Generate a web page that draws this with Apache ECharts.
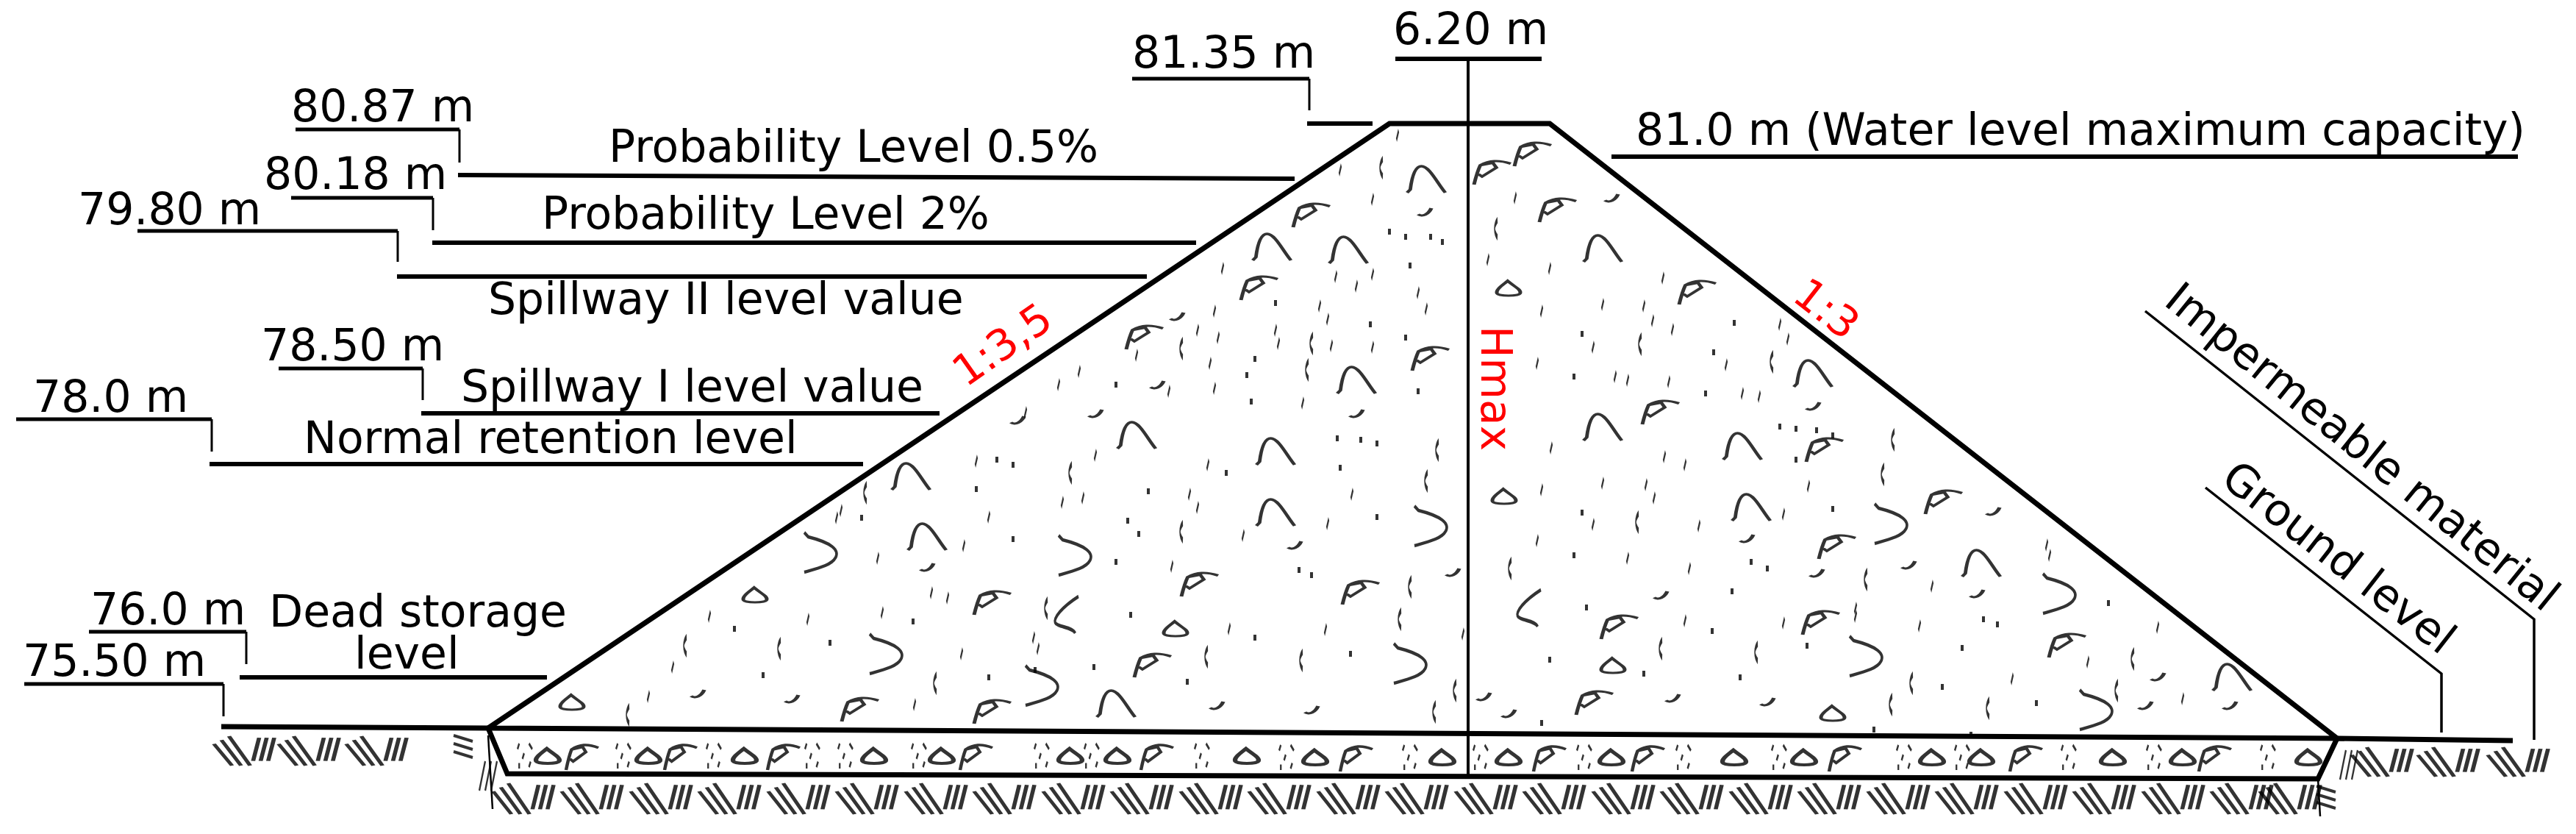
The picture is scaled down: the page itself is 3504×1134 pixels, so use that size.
<!DOCTYPE html>
<html>
<head>
<meta charset="utf-8">
<style>
  html, body { margin: 0; padding: 0; background: #fff; }
  #chart { width: 3504px; height: 1134px; }
</style>
<script src="https://cdn.jsdelivr.net/npm/echarts@6/dist/echarts.min.js"></script>
</head>
<body>
<div id="chart"></div>
<script>
// all diagram points are [x, y] in drawing units, the axes map them onto the page
const damBody = [[664, 990], [1890, 168], [2108, 168], [3179, 1004], [664, 990]]
const foundation = [[664, 990], [690, 1052], [3153, 1059], [3179, 1004]]
const groundLeft = [[301, 988], [664, 990]]
const groundRight = [[3179, 1004], [3418, 1007]]
const centerLine = [[1997, 80], [1997, 1053]]
const crestWidthBar = [[1898, 80], [2097, 80]]
const crestDash = [[1778, 168], [1867, 168]]
const edgeFootLeft = [[664, 1000], [670, 1100]]
const edgeFootRight = [[3153, 1059], [3156, 1110]]

const levelBars = [
  [[1540, 107], [1781, 107]],
  [[402, 176], [625, 176]],
  [[396, 269], [589, 269]],
  [[187, 314], [541, 314]],
  [[379, 501], [575, 501]],
  [[22, 570], [288, 570]],
  [[121, 859], [335, 859]],
  [[33, 930], [304, 930]]
]
const levelLeaders = [
  [[1781, 107], [1781, 150]],
  [[625, 176], [625, 221]],
  [[589, 269], [589, 313]],
  [[541, 314], [541, 356]],
  [[575, 501], [575, 544]],
  [[288, 570], [288, 614]],
  [[335, 859], [335, 903]],
  [[304, 930], [304, 974]]
]
const levelLines = [
  [[623, 238], [1761, 243]],
  [[588, 330], [1627, 330]],
  [[540, 376], [1560, 376]],
  [[573, 562], [1278, 562]],
  [[285, 631], [1174, 631]],
  [[326, 921], [744, 921]],
  [[2192, 213], [3425, 213]]
]
const materialLeaders = [
  [[2918, 423], [3447, 842], [3447, 1006]],
  [[3000, 663], [3321, 916], [3321, 996]]
]

const labelTexts = [
  '81.35 m', '6.20 m', '80.87 m', 'Probability Level 0.5%', '80.18 m',
  'Probability Level 2%', '79.80 m', 'Spillway II level value', '78.50 m',
  'Spillway I level value', '78.0 m', 'Normal retention level', '76.0 m',
  'Dead storage', 'level', '75.50 m', '81.0 m (Water level maximum capacity)',
  'Impermeable material', 'Ground level'
]
const labelPoints = [
  [1540, 76], [1895, 44], [396, 149], [828, 204], [359, 241],
  [737, 295], [106, 289], [664, 411], [355, 474],
  [627, 530], [45, 544], [413, 600], [123, 833],
  [366, 836], [482, 893], [31, 903], [2225, 181],
  [2951, 401], [3028, 644]
]
const labelAngles = [0, 0, 0, 0, 0, 0, 0, 0, 0, 0, 0, 0, 0, 0, 0, 0, 0, -39, -38]

const slopeTexts = ['1:3,5', '1:3', 'Hmax']
const slopePoints = [[1305, 515], [2445, 395], [2030, 443]]
const slopeAngles = [35, -38, -90]

// gravel inside the dam body
const pebbles = [
  [1350, 820], [1632, 795], [1568, 905], [1170, 965], [1350, 968], [1713, 392], [1557, 459],
  [2085, 210], [2030, 235], [1784, 293], [2119, 286], [2309, 398], [1946, 488], [2259, 561],
  [2482, 612], [2644, 683], [2499, 744], [1851, 806], [2203, 853], [2477, 847], [2812, 878], [2169, 956]
]
const drops = [
  [1027, 809], [1599, 855], [778, 955], [2052, 392], [2046, 675], [2194, 905], [2493, 970]
]
const arches = [
  [1261, 730], [1546, 592], [1239, 648], [1735, 614], [1735, 697], [1730, 336], [1940, 244],
  [1834, 340], [2180, 338], [1845, 517], [2466, 508], [2180, 581], [2370, 607], [2382, 690],
  [2695, 766], [3036, 921], [1518, 957]
]
const curves = [
  [1205, 889], [1417, 932], [1462, 755], [1116, 751], [1946, 715], [2572, 712],
  [2801, 807], [1918, 902], [2538, 892], [2851, 965]
]
const openCurves = [[1451, 836], [2080, 827]]
const longDashes = [
  [1456, 643], [1177, 670], [1607, 723], [932, 878], [1060, 882], [1272, 929], [854, 972], [1423, 827],
  [1641, 893], [1607, 474], [1879, 228], [2035, 311], [2231, 468], [2410, 492], [1784, 467], [1778, 503],
  [1955, 612], [2575, 598], [1940, 654], [2561, 645], [2227, 710], [1918, 798], [2538, 788], [2054, 773],
  [1904, 842], [2259, 882], [2389, 887], [1770, 898], [2901, 896], [1979, 939], [2600, 929], [2879, 939],
  [1951, 968], [2572, 958], [2704, 963]
]
const shortDashes = [
  [1490, 619], [1643, 632], [1618, 672], [1629, 690], [1445, 683], [1473, 677], [1345, 703], [1691, 728],
  [1328, 627], [1144, 694], [1138, 704], [1311, 742], [1194, 759], [1594, 770], [1267, 806], [1289, 813],
  [1200, 833], [1099, 842], [965, 838], [1672, 855], [1406, 867], [1412, 882], [1308, 889], [915, 907],
  [882, 947], [1244, 958], [1663, 365], [1652, 423], [1629, 449], [1657, 459], [1546, 483], [1646, 494],
  [1735, 449], [1739, 467], [1468, 505], [1440, 523], [1652, 528], [1395, 561], [1590, 532],
  [1901, 184], [1823, 231], [1867, 271], [2061, 269], [2024, 353], [2108, 365], [1817, 376], [1867, 373],
  [1845, 389], [1929, 398], [1940, 420], [2262, 378], [1795, 416], [1806, 434], [1811, 470], [1867, 472],
  [2097, 423], [2180, 414], [2236, 416], [2248, 436], [2275, 448], [2421, 441], [2432, 461], [2091, 494],
  [2167, 472], [2348, 496], [2270, 519], [2197, 512], [2214, 517], [2393, 539], [2370, 535], [1772, 548],
  [2110, 609], [2264, 621], [2292, 632], [2180, 657], [2239, 659], [2250, 677], [2460, 661], [1839, 672],
  [2097, 666], [2426, 699], [1806, 712], [2311, 715], [2167, 713], [2091, 735], [2214, 759], [2298, 773],
  [2784, 741], [2788, 755], [2628, 797], [2292, 844], [1803, 856], [2426, 847], [2611, 851], [2524, 827],
  [2524, 838], [2935, 853], [2737, 923], [1990, 862], [2969, 950], [2840, 900]
]
const dots = [
  [1549, 726], [1534, 708], [1562, 668], [1328, 665], [1356, 625], [1378, 632], [1668, 643], [1172, 704],
  [1378, 733], [1518, 764], [1538, 836], [1242, 845], [999, 855], [1707, 867], [1129, 874], [1488, 907],
  [1038, 918], [1408, 911], [1345, 921], [1615, 927], [1735, 412], [1707, 488], [1696, 510], [1702, 546],
  [1518, 523], [1890, 315], [1912, 322], [1946, 322], [1962, 329], [1918, 361], [1864, 441], [1912, 459],
  [2152, 454], [2359, 439], [2331, 479], [2141, 512], [1929, 532], [2320, 535], [1823, 636], [1819, 596],
  [1851, 598], [1873, 603], [1873, 703], [2152, 697], [2141, 755], [2493, 692], [2382, 764], [2404, 773],
  [1767, 775], [1784, 782], [2356, 804], [2158, 826], [2868, 820], [2329, 858], [2698, 842], [2717, 849],
  [2458, 878], [2669, 881], [1837, 889], [2108, 897], [2236, 916], [2367, 921], [2642, 934], [2770, 956],
  [2097, 983], [2549, 992], [2421, 580], [2443, 583], [2471, 585], [2493, 592], [2443, 625], [2681, 999]
]
const hooks = [
  [1261, 771], [1384, 571], [949, 943], [1077, 950], [1655, 959], [1490, 562], [1574, 523], [1601, 430],
  [1938, 288], [2192, 269], [2466, 552], [1845, 562], [1761, 741], [1976, 778], [2596, 768], [2259, 809],
  [2471, 779], [2689, 807], [1784, 965], [2018, 947], [2052, 970], [2275, 949], [2404, 954], [2918, 959],
  [3033, 959], [2935, 920], [2376, 732], [2711, 695]
]

// gravel inside the foundation strip
const stripDrops = [
  [745, 1028], [882, 1028], [1013, 1028], [1189, 1028], [1281, 1028], [1456, 1028], [1520, 1028], [1696, 1028],
  [1789, 1030], [1962, 1030], [2052, 1030], [2192, 1030], [2359, 1030], [2454, 1030], [2628, 1030], [2695, 1030],
  [2874, 1030], [2969, 1030], [3140, 1030]
]
const stripPebbles = [
  [792, 1030], [926, 1030], [1066, 1030], [1328, 1030], [1574, 1030],
  [1845, 1032], [2108, 1032], [2242, 1032], [2510, 1032], [2756, 1032], [3013, 1032]
]
const stripSpecks = [
  [714, 1028], [848, 1028], [971, 1028], [1105, 1028], [1150, 1028], [1250, 1028], [1417, 1028], [1485, 1028],
  [1635, 1028], [1750, 1030], [1918, 1030], [2014, 1030], [2155, 1030], [2290, 1030], [2420, 1030], [2590, 1030],
  [2669, 1030], [2814, 1030], [2930, 1030], [3085, 1030]
]

// ground hatching
const hatchUpper = [[332, 1021], [420, 1021], [512, 1021], [3240, 1036], [3330, 1036], [3425, 1036]]
const hatchLower = [
  [712, 1086], [805, 1086], [899, 1086], [992, 1086], [1086, 1086], [1179, 1086], [1273, 1086],
  [1366, 1086], [1460, 1086], [1553, 1086], [1647, 1086], [1740, 1086], [1834, 1086], [1927, 1086],
  [2021, 1086], [2114, 1086], [2208, 1086], [2301, 1086], [2395, 1086], [2488, 1086], [2582, 1086],
  [2675, 1086], [2769, 1086], [2862, 1086], [2956, 1086], [3049, 1086], [3115, 1086]
]
const hatchFlat = [[630, 1015], [3164, 1084]]
const hatchSteep = [[664, 1055], [3195, 1040]]

const PEBBLE = 'path://M3 31C5 22 7 14 10 7C20 1 30 0 44 5M10 7L24 4L28 10L12 21L8 18'
const DROP = 'path://M16 0C24 8 32 12 30 17C28 21 6 21 4 17C2 12 10 6 16 0Z'
const ARCH = 'path://M2 36L6 32C8 16 12 2 20 2C30 2 40 24 50 36'
const CURVE = 'path://M6 0L10 6C34 14 42 24 38 34C34 44 22 48 6 54'
const OPEN_CURVE = 'path://M30 0C10 14 0 28 2 34C4 40 24 40 26 48'
const LONG_DASH = 'path://M2 0C0 8 0 16 2 24'
const SHORT_DASH = 'path://M2 0L0 13'
const HOOK = 'path://M0 8C6 12 14 8 18 0'
const SPECKS = 'path://M2 0L0 8M14 0L18 8M8 14L6 22M2 28L2 36M16 26L14 34'
const HATCH = 'path://M2 10L26 38M12 5L38 38M22 0L50 38M54 32L62 2M64 32L72 2M74 32L82 2'
const HATCH_FLAT = 'path://M0 0L26 8M0 11L26 19M0 22L26 30'
const HATCH_STEEP = 'path://M8 0L0 40M16 0L8 40M24 0L16 40'

function polyline (points, width) {
  return {
    type: 'line',
    data: points,
    showSymbol: false,
    silent: true,
    animation: false,
    clip: false,
    lineStyle: { color: '#000', width: width, join: 'miter' }
  }
}

function marks (points, symbol, size, width) {
  return {
    type: 'scatter',
    data: points,
    symbol: symbol,
    symbolSize: size,
    silent: true,
    animation: false,
    clip: false,
    itemStyle: { color: 'transparent', borderColor: '#000', borderWidth: width || 3.5 }
  }
}

function dotMarks (points) {
  return {
    type: 'scatter',
    data: points,
    symbol: 'rect',
    symbolSize: [4, 8],
    silent: true,
    animation: false,
    itemStyle: { color: '#000' }
  }
}

function textSeries (texts, points, angles, color, size) {
  return {
    type: 'custom',
    silent: true,
    animation: false,
    clip: false,
    data: points,
    renderItem: function (params, api) {
      let pos = api.coord([api.value(0), api.value(1)])
      return {
        type: 'text',
        x: pos[0],
        y: pos[1],
        rotation: angles[params.dataIndex] * Math.PI / 180,
        style: {
          text: texts[params.dataIndex],
          fill: color,
          font: size + 'px "DejaVu Sans"',
          align: 'left',
          verticalAlign: 'middle'
        }
      }
    }
  }
}

let series = [
  polyline(damBody, 7),
  polyline(foundation, 7),
  polyline(groundLeft, 7),
  polyline(groundRight, 7),
  polyline(centerLine, 4),
  polyline(crestWidthBar, 6),
  polyline(crestDash, 6),
  polyline(edgeFootLeft, 2.5),
  polyline(edgeFootRight, 2.5)
]
levelBars.forEach(function (l) { series.push(polyline(l, 5)) })
levelLeaders.forEach(function (l) { series.push(polyline(l, 3)) })
levelLines.forEach(function (l) { series.push(polyline(l, 6)) })
materialLeaders.forEach(function (l) { series.push(polyline(l, 3.5)) })

series.push(
  marks(pebbles, PEBBLE, [50, 32], 4),
  marks(drops, DROP, [32, 20], 4),
  marks(arches, ARCH, [52, 36], 4),
  marks(curves, CURVE, [44, 54], 4),
  marks(openCurves, OPEN_CURVE, [32, 50], 4),
  marks(longDashes, LONG_DASH, [4, 24]),
  marks(shortDashes, SHORT_DASH, [3, 13]),
  dotMarks(dots),
  marks(hooks, HOOK, [18, 10], 4),
  marks(stripDrops, DROP, [32, 20], 5),
  marks(stripPebbles, PEBBLE, [44, 34], 4),
  marks(stripSpecks, SPECKS, [20, 34], 3),
  marks(hatchUpper, HATCH, [82, 40], 4),
  marks(hatchLower, HATCH, [82, 42], 4),
  marks(hatchFlat, HATCH_FLAT, [26, 30], 4),
  marks(hatchSteep, HATCH_STEEP, [24, 40], 3),
  textSeries(labelTexts, labelPoints, labelAngles, '#000', 60),
  textSeries(slopeTexts, slopePoints, slopeAngles, '#f00', 58)
)

let chart = echarts.init(document.getElementById('chart'))
chart.setOption({
  backgroundColor: '#fff',
  animation: false,
  grid: { left: 0, right: 0, top: 0, bottom: 0 },
  xAxis: { type: 'value', min: 0, max: 3504, show: false },
  yAxis: { type: 'value', min: 0, max: 1134, inverse: true, show: false },
  series: series
})
</script>
</body>
</html>
